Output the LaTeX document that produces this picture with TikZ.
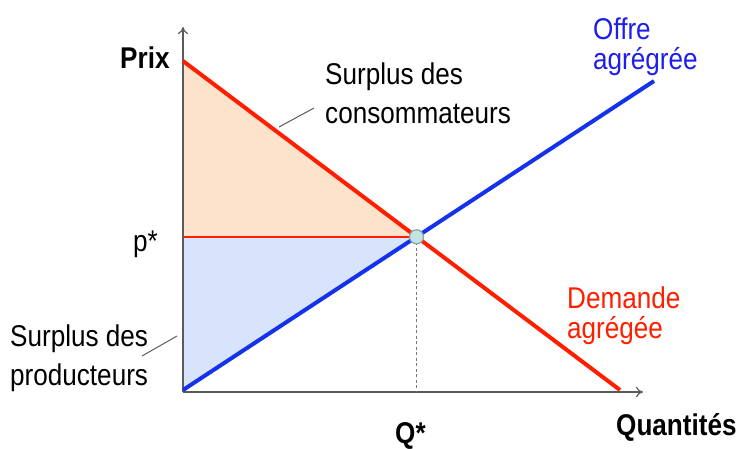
\documentclass[tikz,border=0pt]{standalone}
\usepackage{fontspec}
\setmainfont{Liberation Sans}[FakeStretch=0.87]
\usetikzlibrary{intersections,arrows.meta}
\definecolor{dred}{RGB}{255,30,0}
\definecolor{dblue}{RGB}{20,50,235}
\definecolor{tblue}{RGB}{30,30,235}
\definecolor{lorange}{RGB}{253,227,203}
\definecolor{lblue}{RGB}{216,228,252}
\definecolor{eqfill}{RGB}{196,228,228}
\definecolor{eqdraw}{RGB}{130,165,165}
\definecolor{axisgray}{RGB}{90,90,90}
\definecolor{dashgray}{RGB}{120,120,120}
\tikzset{
  lbl/.style={inner sep=0pt, anchor=base west, align=left, font=\fontsize{30}{39}\selectfont},
  lbltight/.style={lbl, font=\fontsize{30}{30}\selectfont},
  lblbold/.style={lbl, font=\fontsize{30}{30}\selectfont\bfseries},
  axisline/.style={draw=axisgray, line width=1.2pt, -{To[length=7pt,width=10pt]}},
  curve/.style={line width=4pt},
  leader/.style={draw=axisgray, line width=1pt},
}
\begin{document}
\begin{tikzpicture}[x=1pt,y=-1pt]
\useasboundingbox (0,0) rectangle (741,448);
\coordinate (O) at (183,392);
\coordinate (Ptop) at (183,61);
\coordinate (Dend) at (620,390);
\coordinate (Sstart) at (183,390);
\coordinate (Send) at (654,81);
\path[name path=dem] (Ptop) -- (Dend);
\path[name path=sup] (Sstart) -- (Send);
\path[name intersections={of=dem and sup, by=E}];
\coordinate (Pstar) at (Ptop |- E);
\coordinate (Qstar) at (E |- O);
% surplus areas
\fill[lorange] (Ptop) -- (E) -- (Pstar) -- cycle;
\fill[lblue] (Pstar) -- (E) -- (Sstart) -- cycle;
\draw[dred, line width=1.6pt] (Ptop) -- (Pstar) -- (E);
\draw[dblue!60, line width=1.2pt] (Pstar) -- (Sstart);
% axes
\coordinate (Ytip) at (183,27);
\coordinate (Xtip) at (643,392);
\draw[axisline] (O) -- (Ytip);
\draw[axisline] (O) -- (Xtip);
% dashed
\draw[dashgray, line width=1.5pt, dash pattern=on 3pt off 2.5pt] (E) -- (Qstar);
% curves
\draw[dred, curve] (Ptop) -- (Dend);
\draw[dblue, curve] (Sstart) -- (Send);
\node[circle, fill=eqfill, draw=eqdraw, line width=1.2pt, minimum size=14pt, inner sep=0pt] (eq) at (E) {};
% leaders
\coordinate (c1) at (279,127);
\coordinate (c2) at (314,108);
\draw[leader] (c1) -- (c2);
\coordinate (p1) at (142,356);
\coordinate (p2) at (177,336);
\draw[leader] (p1) -- (p2);
% labels
\node[lblbold] (prix) at (120,68) {Prix};
\node[lbl] (pst) at (133,251) {p*};
\node[lblbold] (qst) at (395,443) {Q*};
\node[lblbold] (qty) at (616,435) {Quantités};
\node[lbltight, text=tblue] (offre) at (593,69) {Offre\\agrégrée};
\node[lbltight, text=dred] (dem) at (567,338) {Demande\\agrégée};
\node[lbl] (sc) at (325,123) {Surplus des\\consommateurs};
\node[lbl] (sp) at (10,385) {Surplus des\\producteurs};
\end{tikzpicture}
\end{document}
